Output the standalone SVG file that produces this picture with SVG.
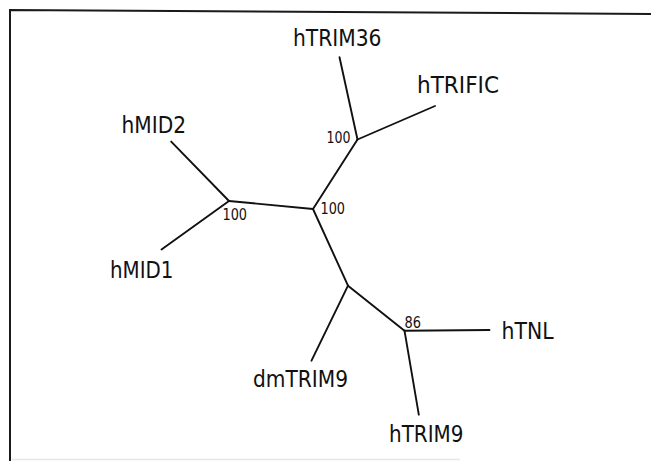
<svg xmlns="http://www.w3.org/2000/svg" width="651" height="461" viewBox="0 0 651 461">
<style>
.bg{fill:#ffffff}
.frame{fill:none;stroke:#1a1a1a;stroke-width:2}
.faint{fill:none;stroke:#e6e6e6;stroke-width:1.5}
.br{fill:none;stroke:#111111;stroke-width:1.9;stroke-linecap:round;stroke-linejoin:round}
.leaf{font-family:"DejaVu Sans Condensed","DejaVu Sans",sans-serif;font-size:22.5px;fill:#111111}
.bs{font-family:"DejaVu Sans Condensed","DejaVu Sans",sans-serif;font-size:16.5px;fill:#111111}
</style>
<rect class="bg" x="0" y="0" width="651" height="461"/>
<path class="frame" d="M10,461 V10 L651,14"/>
<line class="faint" x1="12" y1="459.5" x2="460" y2="459.5"/>
<g id="connectors">
<line class="br" x1="357.5" y1="139.5" x2="339.5" y2="57.3"/>
<line class="br" x1="357.5" y1="139.5" x2="435" y2="106"/>
<line class="br" x1="357.5" y1="139.5" x2="313" y2="209"/>
<line class="br" x1="313" y1="209" x2="229" y2="201"/>
<line class="br" x1="229" y1="201" x2="171.2" y2="141.6"/>
<line class="br" x1="229" y1="201" x2="161.5" y2="249.5"/>
<line class="br" x1="313" y1="209" x2="348" y2="285.7"/>
<line class="br" x1="348" y1="285.7" x2="311.5" y2="360.7"/>
<line class="br" x1="348" y1="285.7" x2="404.5" y2="330.7"/>
<line class="br" x1="404.5" y1="330.7" x2="489.5" y2="330"/>
<line class="br" x1="404.5" y1="330.7" x2="418.8" y2="414.7"/>
</g>
<g id="node-hTRIM36"><text class="leaf" x="293" y="46" textLength="88.5" lengthAdjust="spacingAndGlyphs">hTRIM36</text></g>
<g id="node-hTRIFIC"><text class="leaf" x="417" y="93.3" textLength="82" lengthAdjust="spacingAndGlyphs">hTRIFIC</text></g>
<g id="node-hMID2"><text class="leaf" x="121.5" y="132.5" textLength="64.5" lengthAdjust="spacingAndGlyphs">hMID2</text></g>
<g id="node-hMID1"><text class="leaf" x="110" y="277.5" textLength="63.5" lengthAdjust="spacingAndGlyphs">hMID1</text></g>
<g id="node-dmTRIM9"><text class="leaf" x="253" y="386.5" textLength="95" lengthAdjust="spacingAndGlyphs">dmTRIM9</text></g>
<g id="node-hTRIM9"><text class="leaf" x="389" y="442" textLength="74.5" lengthAdjust="spacingAndGlyphs">hTRIM9</text></g>
<g id="node-hTNL"><text class="leaf" x="501.5" y="338.8" textLength="52" lengthAdjust="spacingAndGlyphs">hTNL</text></g>
<g id="node-trim36-trific"><text class="bs" x="326.5" y="143.3" textLength="24" lengthAdjust="spacingAndGlyphs">100</text></g>
<g id="node-center"><text class="bs" x="320.5" y="214" textLength="24.5" lengthAdjust="spacingAndGlyphs">100</text></g>
<g id="node-mid"><text class="bs" x="222.5" y="220" textLength="24.5" lengthAdjust="spacingAndGlyphs">100</text></g>
<g id="node-tnl-trim9"><text class="bs" x="404.5" y="328.3" textLength="16.5" lengthAdjust="spacingAndGlyphs">86</text></g>
</svg>
